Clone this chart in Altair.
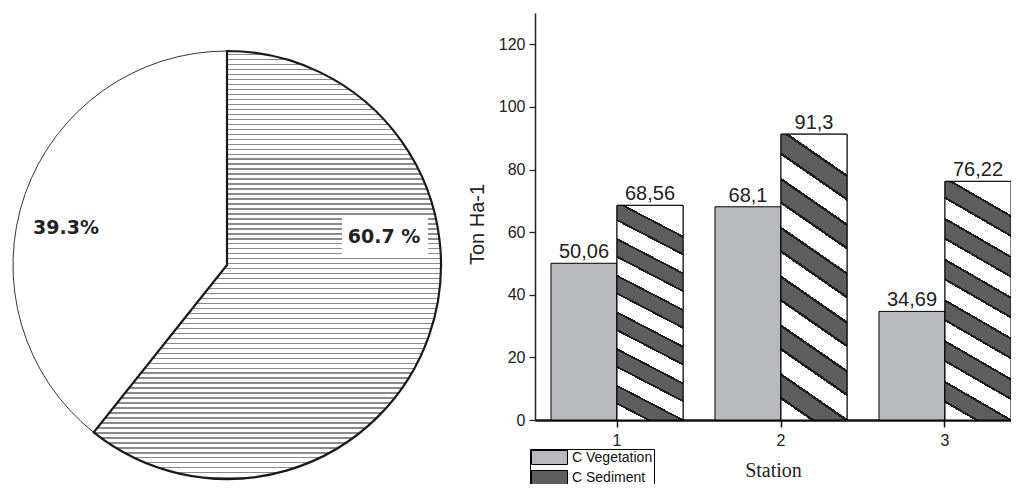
import altair as alt
import pandas as pd

# ---------------- data ----------------
pie_labels = ["60.7 %", "39.3%"]
pie_values = [60.7, 39.3]

stations = ["1", "2", "3"]
series_names = ["C Vegetation", "C Sediment"]
vegetation = [50.06, 68.1, 34.69]
sediment = [68.56, 91.3, 76.22]
y_ticks = [0, 20, 40, 60, 80, 100, 120]

# ---------------- tables ----------------
pie_df = pd.DataFrame({"label": pie_labels, "value": pie_values})
pie_df["end"] = pie_df["value"].cumsum()
pie_df["start"] = pie_df["end"] - pie_df["value"]

rows = []
for s, v in zip(stations, vegetation):
    rows.append({"station": s, "series": series_names[0], "value": v})
for s, v in zip(stations, sediment):
    rows.append({"station": s, "series": series_names[1], "value": v})
bar_df = pd.DataFrame(rows)
bar_df["txt"] = bar_df["value"].map(lambda v: str(v).replace(".", ","))


def stripes(n, pattern, x1, y1, x2, y2):
    stops = []
    for i in range(n):
        for off, col in pattern:
            o = min(1.0, round((i + off) / n, 6))
            stops.append({"offset": o, "color": col})
    return {"gradient": "linear", "x1": x1, "y1": y1, "x2": x2, "y2": y2, "stops": stops}


stipple = stripes(86, [(0, "#ffffff"), (0.6, "#ffffff"), (0.6, "#8a8a8a"),
                       (0.88, "#8a8a8a"), (0.88, "#ffffff"), (1, "#ffffff")], 0, 0, 0, 1)
sed_fill = stripes(6, [(0, "#ffffff"), (0.42, "#ffffff"), (0.42, "#1e1e1e"), (0.48, "#1e1e1e"),
                       (0.48, "#5e5e5e"), (0.9, "#5e5e5e"), (0.9, "#1e1e1e"), (0.96, "#1e1e1e"),
                       (0.96, "#ffffff"), (1, "#ffffff")], 0, 1, 0.16, 0)

SANS = "Liberation Sans"

# plot area origin sits at page (535, 13); pie lives in the left padding
CX, CY, R = -308, 252, 214
pie_base = alt.Chart(pie_df)
theta = alt.Theta("start:Q", scale=alt.Scale(domain=[0, 100]))

white_slice = pie_base.transform_filter(alt.datum.label == pie_labels[1]).mark_arc(
    radius=R, fill="white", stroke="#333333", strokeWidth=1
).encode(theta=theta, theta2="end:Q", x=alt.value(CX), y=alt.value(CY))

pattern_slice = pie_base.transform_filter(alt.datum.label == pie_labels[0]).mark_arc(
    radius=R, fill=stipple, stroke="#1a1a1a", strokeWidth=2.2
).encode(theta=theta, theta2="end:Q", x=alt.value(CX), y=alt.value(CY))

label_box = pie_base.transform_filter(alt.datum.label == pie_labels[0]).mark_rect(
    fill="white"
).encode(x=alt.value(-193), x2=alt.value(-107), y=alt.value(204), y2=alt.value(241))

lab_big = pie_base.transform_filter(alt.datum.label == pie_labels[0]).mark_text(
    font="DejaVu Sans", fontWeight="bold", fontSize=19, color="#222222", align="center", baseline="middle"
).encode(text="label:N", x=alt.value(-151), y=alt.value(224))

lab_small = pie_base.transform_filter(alt.datum.label == pie_labels[1]).mark_text(
    font="DejaVu Sans", fontWeight="bold", fontSize=19, color="#222222", align="center", baseline="middle"
).encode(text="label:N", x=alt.value(-469), y=alt.value(215))

# ---------------- bars ----------------
x_enc = alt.X(
    "station:N",
    scale=alt.Scale(paddingInner=0.195, paddingOuter=0.0488, align=1),
    axis=alt.Axis(
        title="Station", titleFont="Liberation Serif", titleFontSize=20, titleFontWeight="normal",
        titleColor="#222222", titleY=56, titleBaseline="alphabetic",
        labelAngle=0, labelFont=SANS, labelFontSize=16, labelColor="#222222", labelPadding=5,
        tickSize=7, tickWidth=1.5, tickColor="#111111", domainWidth=2.5, domainColor="#111111",
    ),
)
xoff = alt.XOffset("series:N", scale=alt.Scale(domain=series_names, paddingInner=0, paddingOuter=0))
y_enc = alt.Y(
    "value:Q",
    scale=alt.Scale(domain=[0, 130], nice=False),
    axis=alt.Axis(
        values=y_ticks, title="Ton Ha-1", titleFont=SANS, titleFontSize=20, titleFontWeight="normal",
        titleColor="#222222", titleX=-58, titleY=211, titleAngle=270, titleAlign="center",
        titleBaseline="middle",
        labelFont=SANS, labelFontSize=16, labelColor="#222222", labelPadding=4,
        tickSize=6, tickWidth=1.3, tickColor="#222222", domainWidth=1.5, domainColor="#222222",
        grid=False,
    ),
)

# wide rectangular swatch (36 x 14) inside a compact legend row
legend = alt.Legend(
    title=None, orient="none", legendX=-5, legendY=436, strokeColor="black", fillColor="white",
    padding=1, symbolType="M-1,-1H4.14V1H-1Z", symbolSize=196, symbolStrokeColor="black",
    symbolStrokeWidth=1, labelFont=SANS, labelFontSize=14, labelColor="#111111", labelOffset=26,
    rowPadding=1, symbolOpacity=1,
)

bars_base = alt.Chart(bar_df)
bars = bars_base.mark_bar(stroke="black", strokeWidth=1, opacity=1).encode(
    x=x_enc, xOffset=xoff, y=y_enc,
    color=alt.Color("series:N", scale=alt.Scale(domain=series_names, range=["#b8b9bc", "#5e5e5e"]),
                    legend=legend, sort=series_names),
)
sed_bars = bars_base.transform_filter(alt.datum.series == series_names[1]).mark_bar(
    fill=sed_fill, stroke="black", strokeWidth=1
).encode(x=x_enc, xOffset=xoff, y=y_enc)

texts = bars_base.mark_text(
    font=SANS, fontSize=20, color="#222222", baseline="alphabetic", dy=-5
).encode(x=x_enc, xOffset=xoff, y=y_enc, text="txt:N")

chart = alt.layer(
    white_slice, pattern_slice, label_box, lab_big, lab_small, bars, sed_bars, texts
).resolve_scale(theta="independent").properties(
    width=476, height=407,
    autosize=alt.AutoSizeParams(type="none"),
    padding={"left": 527, "top": 5, "right": 0, "bottom": 64},
).configure_view(stroke=None)

chart.save("out.html", embed_options={"renderer": "svg", "actions": False})
